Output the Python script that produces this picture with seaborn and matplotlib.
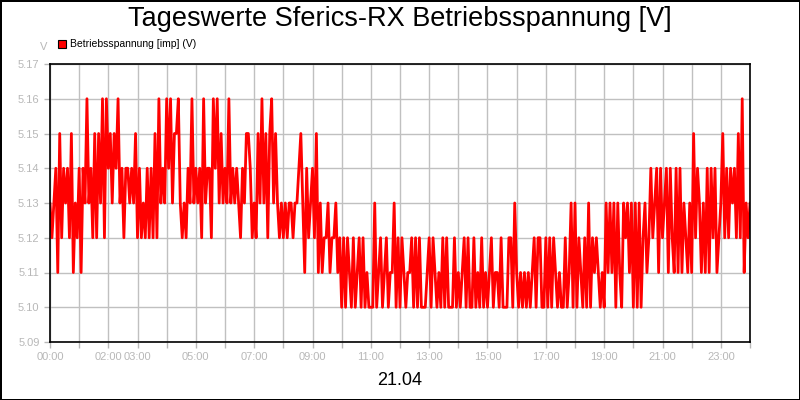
import numpy as np
import pandas as pd
import matplotlib
matplotlib.use('Agg')
import matplotlib.pyplot as plt
import seaborn as sns

# Werte pro Stunde (alle 4 Minuten)
h00 = [5.13, 5.12, 5.13, 5.14, 5.11, 5.15, 5.12, 5.14, 5.13, 5.14, 5.12, 5.15, 5.11, 5.13, 5.12]
h01 = [5.14, 5.11, 5.14, 5.13, 5.16, 5.13, 5.14, 5.12, 5.15, 5.12, 5.15, 5.13, 5.16, 5.12, 5.16]
h02 = [5.14, 5.15, 5.13, 5.15, 5.14, 5.16, 5.13, 5.14, 5.12, 5.14, 5.14, 5.13, 5.14, 5.13, 5.15]
h03 = [5.12, 5.14, 5.12, 5.13, 5.12, 5.14, 5.12, 5.14, 5.12, 5.15, 5.12, 5.16, 5.13, 5.14, 5.13]
h04 = [5.16, 5.14, 5.16, 5.13, 5.15, 5.15, 5.16, 5.13, 5.12, 5.13, 5.12, 5.14, 5.13, 5.16, 5.13]
h05 = [5.14, 5.13, 5.14, 5.12, 5.16, 5.13, 5.14, 5.14, 5.12, 5.16, 5.14, 5.16, 5.13, 5.15, 5.13]
h06 = [5.14, 5.13, 5.16, 5.13, 5.14, 5.13, 5.14, 5.13, 5.12, 5.14, 5.13, 5.15, 5.15, 5.14, 5.12]
h07 = [5.13, 5.12, 5.15, 5.13, 5.16, 5.13, 5.15, 5.12, 5.15, 5.16, 5.13, 5.15, 5.13, 5.12, 5.13]
h08 = [5.12, 5.13, 5.12, 5.13, 5.13, 5.12, 5.13, 5.13, 5.14, 5.15, 5.13, 5.11, 5.14, 5.12, 5.13]
h09 = [5.14, 5.12, 5.15, 5.11, 5.13, 5.11, 5.12, 5.12, 5.13, 5.11, 5.12, 5.12, 5.13, 5.11, 5.12]
h10 = [5.10, 5.12, 5.10, 5.12, 5.11, 5.10, 5.12, 5.10, 5.11, 5.12, 5.10, 5.12, 5.10, 5.11, 5.10]
h11 = [5.10, 5.10, 5.13, 5.10, 5.11, 5.12, 5.10, 5.11, 5.12, 5.10, 5.11, 5.11, 5.13, 5.10, 5.12]
h12 = [5.10, 5.12, 5.11, 5.10, 5.11, 5.11, 5.12, 5.10, 5.12, 5.10, 5.12, 5.10, 5.10, 5.10, 5.11]
h13 = [5.12, 5.10, 5.12, 5.11, 5.10, 5.11, 5.10, 5.12, 5.10, 5.12, 5.10, 5.10, 5.10, 5.12, 5.10]
h14 = [5.11, 5.10, 5.11, 5.12, 5.10, 5.12, 5.10, 5.10, 5.12, 5.10, 5.11, 5.10, 5.12, 5.10, 5.11]
h15 = [5.10, 5.11, 5.12, 5.10, 5.11, 5.11, 5.10, 5.12, 5.10, 5.10, 5.10, 5.12, 5.12, 5.10, 5.13]
h16 = [5.11, 5.10, 5.11, 5.10, 5.11, 5.10, 5.11, 5.10, 5.11, 5.12, 5.10, 5.12, 5.12, 5.10, 5.10]
h17 = [5.12, 5.10, 5.12, 5.10, 5.12, 5.11, 5.10, 5.11, 5.10, 5.10, 5.12, 5.10, 5.11, 5.13, 5.10]
h18 = [5.13, 5.10, 5.12, 5.11, 5.10, 5.12, 5.10, 5.13, 5.10, 5.12, 5.11, 5.12, 5.11, 5.10, 5.11]
h19 = [5.10, 5.13, 5.11, 5.13, 5.11, 5.13, 5.10, 5.13, 5.11, 5.10, 5.13, 5.12, 5.13, 5.11, 5.13]
h20 = [5.10, 5.13, 5.10, 5.13, 5.10, 5.12, 5.13, 5.11, 5.12, 5.14, 5.12, 5.13, 5.14, 5.11, 5.14]
h21 = [5.12, 5.13, 5.14, 5.11, 5.14, 5.12, 5.11, 5.14, 5.11, 5.14, 5.11, 5.13, 5.12, 5.11, 5.13]
h22 = [5.11, 5.15, 5.12, 5.14, 5.13, 5.11, 5.13, 5.11, 5.14, 5.11, 5.14, 5.12, 5.14, 5.11, 5.12]
h23 = [5.13, 5.15, 5.12, 5.14, 5.12, 5.14, 5.13, 5.14, 5.12, 5.15, 5.12, 5.16, 5.11, 5.13, 5.12, 5.13]

werte = (h00 + h01 + h02 + h03 + h04 + h05 + h06 + h07 + h08 + h09 + h10 + h11
         + h12 + h13 + h14 + h15 + h16 + h17 + h18 + h19 + h20 + h21 + h22 + h23)

tick_hours = [0, 2, 3, 5, 7, 9, 11, 13, 15, 17, 19, 21, 23]
tick_labels = ['00:00', '02:00', '03:00', '05:00', '07:00', '09:00', '11:00',
               '13:00', '15:00', '17:00', '19:00', '21:00', '23:00']
y_ticks = [5.09, 5.10, 5.11, 5.12, 5.13, 5.14, 5.15, 5.16, 5.17]

df = pd.DataFrame({'stunde': np.arange(len(werte)) * 4 / 60, 'wert': werte})

sns.set_style('white')
plt.rcParams['font.family'] = ['Liberation Sans', 'DejaVu Sans']

fig = plt.figure(figsize=(8, 4), dpi=100)
fig.patch.set_edgecolor('black')
fig.patch.set_linewidth(2)
ax = fig.add_axes([0.0625, 0.145, 0.875, 0.695])

sns.lineplot(data=df, x='stunde', y='wert', ax=ax, color='#ff0000',
             linewidth=2, label='Betriebsspannung [imp] (V)', legend=False)

ax.set_xlim(0, 24)
ax.set_ylim(5.09, 5.17)
ax.set_xticks(range(0, 25))
ax.set_xticklabels([tick_labels[tick_hours.index(h)] if h in tick_hours else '' for h in range(25)])
ax.set_yticks(y_ticks)
ax.set_yticklabels([f'{v:.2f}' for v in y_ticks])
ax.grid(True, color='#c0c0c0', linewidth=1)
ax.tick_params(axis='both', colors='#b8b8b8', labelsize=8, length=4, width=1,
               direction='out', bottom=True, left=True)
for sp in ax.spines.values():
    sp.set_color('black')
    sp.set_linewidth(1.2)
ax.set_xlabel('')
ax.set_ylabel('')

fig.text(0.5, 0.952, 'Tageswerte Sferics-RX Betriebsspannung [V]', ha='center',
         va='center', fontsize=19.5, color='black')
fig.text(0.054, 0.882, 'V', ha='center', va='center', fontsize=8, color='#b8b8b8')
fig.patches.append(plt.Rectangle((0.0725, 0.88), 0.01, 0.02, transform=fig.transFigure,
                                 facecolor='#ff0000', edgecolor='black', linewidth=0.8))
fig.text(0.0875, 0.89, 'Betriebsspannung [imp] (V)', ha='left', va='center',
         fontsize=7.5, color='black')
fig.text(0.5, 0.048, '21.04', ha='center', va='center', fontsize=13, color='black')

fig.savefig('out.png', dpi=100, edgecolor=fig.get_edgecolor())
